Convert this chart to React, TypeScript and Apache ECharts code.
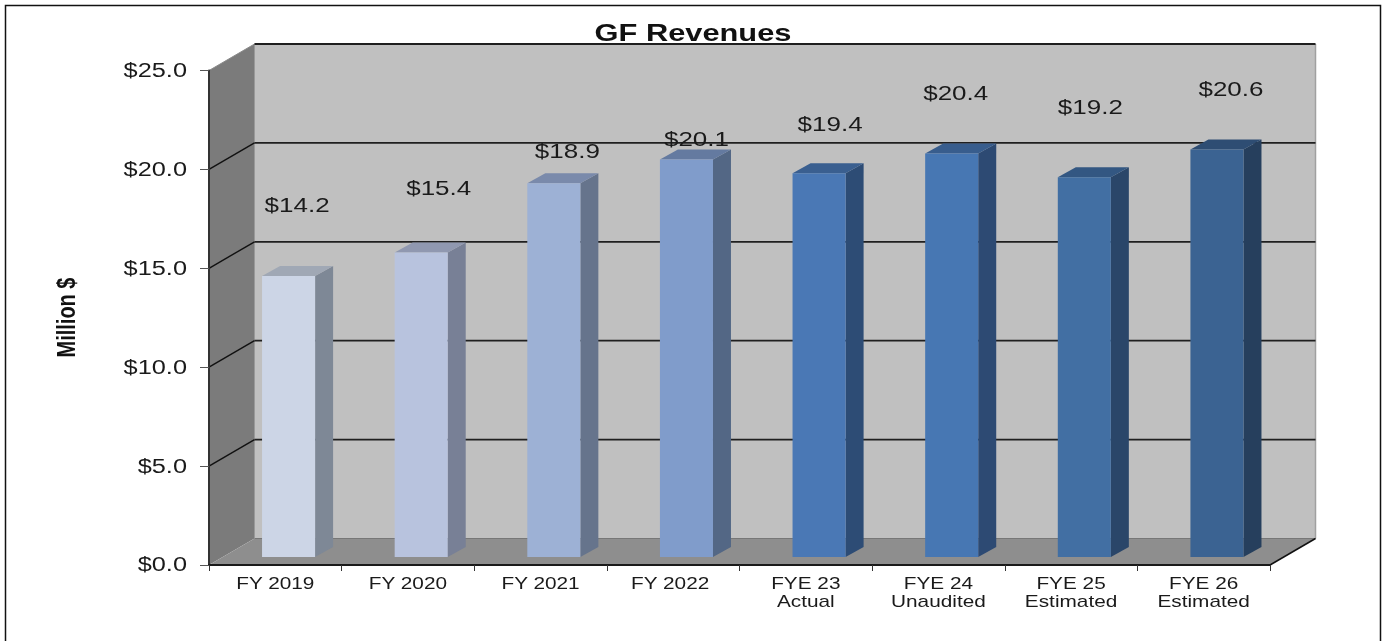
import React, { useEffect, useRef } from "react";
import * as echarts from "echarts";

const categories = ["FY 2019", "FY 2020", "FY 2021", "FY 2022", "FYE 23\nActual", "FYE 24\nUnaudited", "FYE 25\nEstimated", "FYE 26\nEstimated"];
const revenues = [14.2, 15.4, 18.9, 20.1, 19.4, 20.4, 19.2, 20.6];
const yTicks = [0, 5, 10, 15, 20, 25];
const yTickLabels = ["$0.0", "$5.0", "$10.0", "$15.0", "$20.0", "$25.0"];
const frontColors = ["#ccd5e6", "#b8c3de", "#9db1d5", "#809ccb", "#4a78b5", "#4777b3", "#426fa3", "#3b6392"];
const sideColors = ["#7e8896", "#788096", "#66748c", "#536785", "#2d4c75", "#2d4a73", "#2a4669", "#263f5d"];
const topColors = ["#a0a8b5", "#9098b0", "#7a8aab", "#647aa0", "#3a5f90", "#385d8d", "#335782", "#2e4d73"];
// Hand-placed label nudges from the bar top, as in the reference.
const labelRise = [79, 72, 40, 28, 57, 68, 78, 68];
const labelShift = [-0.5, 8.5, 4.5, 1, 2, -5, -3, 5];
const categoryShift = [0, 0, 0, -3, 0, 0, 0, 0];

const DX = 45.5, DY = 26.5;
const TEXT = "#1a1a1a";
const FONT = "'Liberation Sans', Arial, sans-serif";
const STRETCH = 1.3;

function stretched(text: string, x: number, y: number, size: number, align = "center", lineHeight = size + 2) {
  return {
    type: "text", x, y, scaleX: STRETCH,
    style: { text, x: 0, y: 0, align, verticalAlign: "middle", fill: TEXT, fontFamily: FONT, fontSize: size, lineHeight },
  };
}
function poly(points: number[][], fill: string) {
  return { type: "polygon", shape: { points }, style: { fill, stroke: "none" } };
}
function seg(x1: number, y1: number, x2: number, y2: number, stroke: string, lineWidth = 1.5) {
  return { type: "line", shape: { x1, y1, x2, y2 }, style: { stroke, lineWidth, fill: "none" } };
}

export default function App() {
  const ref = useRef<HTMLDivElement>(null);
  useEffect(() => {
    const chart = echarts.init(ref.current!, undefined, { renderer: "svg" });
    chart.setOption({
      animation: false,
      backgroundColor: "#ffffff",
      grid: { left: 209, top: 70.5, width: 1061, height: 494.5 },
      xAxis: {
        type: "category", data: categories, z: 5,
        axisLine: { lineStyle: { color: "#1a1a1a", width: 2 } },
        axisTick: { show: true, length: 6, lineStyle: { color: "#333", width: 1 } },
        axisLabel: { show: false },
      },
      yAxis: {
        type: "value", min: 0, max: 25, interval: 5, z: 5,
        axisLine: { show: true, lineStyle: { color: "#333", width: 2 } },
        axisTick: { show: true, length: 9, lineStyle: { color: "#555", width: 1 } },
        axisLabel: { show: false },
        splitLine: { show: false },
      },
      series: [
        {
          type: "custom", z: 1, silent: true, data: [0],
          renderItem: (params: any, api: any) => {
            const c = params.coordSys;
            const l = c.x, r = c.x + c.width, t = c.y, b = c.y + c.height;
            const children: any[] = [
              poly([[l + DX, t - DY], [r + DX, t - DY], [r + DX, b - DY], [l + DX, b - DY]], "#c0c0c0"),
              poly([[l, t], [l + DX, t - DY], [l + DX, b - DY], [l, b]], "#7b7b7b"),
              poly([[l, b], [l + DX, b - DY], [r + DX, b - DY], [r, b]], "#8e8e8e"),
              seg(l + DX, t - DY, l + DX, b - DY, "#999999", 1),
              seg(r + DX, t - DY, r + DX, b - DY, "#a0a0a0", 1.5),
              seg(l + DX, b - DY, r + DX, b - DY, "#777777", 1),
              seg(l, t, l + DX, t - DY, "#8a8a8a", 1),
              seg(r, b, r + DX, b - DY, "#111111", 1.5),
            ];
            yTicks.filter((v) => v > 0).forEach((v) => {
              const y = api.coord([0, v])[1];
              children.push(seg(l + DX, y - DY, r + DX, y - DY, "#1f1f1f", 1.8));
              if (v < 25) children.push(seg(l, y, l + DX, y - DY, "#111111", 1.4));
            });
            return { type: "group", children };
          },
        },
        {
          type: "custom", z: 2, silent: true, data: revenues.map((v, i) => [i, v]),
          encode: { x: 0, y: 1 },
          renderItem: (params: any, api: any) => {
            const i = api.value(0);
            const [cx, top0] = api.coord([i, api.value(1)]);
            const base0 = api.coord([i, 0])[1];
            const band = api.size([1, 0])[0];
            const w = band * 0.4;
            const x0 = cx + band * 0.1 - w / 2, x1 = x0 + w;
            const top = top0 - 8, base = base0 - 8;
            const dx = 18, dy = 10;
            return {
              type: "group",
              children: [
                poly([[x1, top], [x1 + dx, top - dy], [x1 + dx, base - dy], [x1, base]], sideColors[i]),
                poly([[x0, top], [x0 + dx, top - dy], [x1 + dx, top - dy], [x1, top]], topColors[i]),
                poly([[x0, top], [x1, top], [x1, base], [x0, base]], frontColors[i]),
              ],
            };
          },
        },
        {
          type: "custom", z: 3, silent: true, data: revenues.map((v, i) => [i, v]),
          encode: { x: 0, y: 1 },
          renderItem: (params: any, api: any) => {
            const i = api.value(0);
            const v = api.value(1);
            const [cx, top] = api.coord([i, v]);
            const band = api.size([1, 0])[0];
            const base = api.coord([i, 0])[1];
            const children: any[] = [
              stretched("$" + v.toFixed(1), cx + band * 0.1 + 9 + labelShift[i], top - labelRise[i], 20),
              stretched(categories[i], cx + categoryShift[i], base + (categories[i].includes("\n") ? 27.5 : 18.5), 16, "center", 18),
            ];
            return { type: "group", children };
          },
        },
        {
          type: "custom", z: 3, silent: true, data: yTicks.map((v, i) => [0, v, i]),
          encode: { x: 0, y: 1 },
          renderItem: (params: any, api: any) => {
            const y = api.coord([0, api.value(1)])[1];
            return stretched(yTickLabels[api.value(2)], params.coordSys.x - 22, y, 19.5, "right");
          },
        },
      ],
      graphic: [
        { type: "rect", z: 0, shape: { x: 5.5, y: 5.5, width: 1375, height: 640 }, style: { fill: "none", stroke: "#111", lineWidth: 1.5 } },
        { type: "text", z: 10, x: 693, y: 33, scaleX: STRETCH, style: { text: "GF Revenues", x: 0, y: 0, align: "center", verticalAlign: "middle", fill: "#111", fontFamily: FONT, fontSize: 23.7, fontWeight: "bold" } },
        { type: "text", z: 10, x: 66, y: 317.5, rotation: Math.PI / 2, scaleY: STRETCH, style: { text: "Million $", x: 0, y: 0, align: "center", verticalAlign: "middle", fill: "#111", fontFamily: FONT, fontSize: 20, fontWeight: "bold" } },
      ],
    });
    return () => chart.dispose();
  }, []);
  return <div ref={ref} style={{ position: "absolute", left: 0, top: 0, width: 1387, height: 641, filter: "blur(0.4px)" }} />;
}
